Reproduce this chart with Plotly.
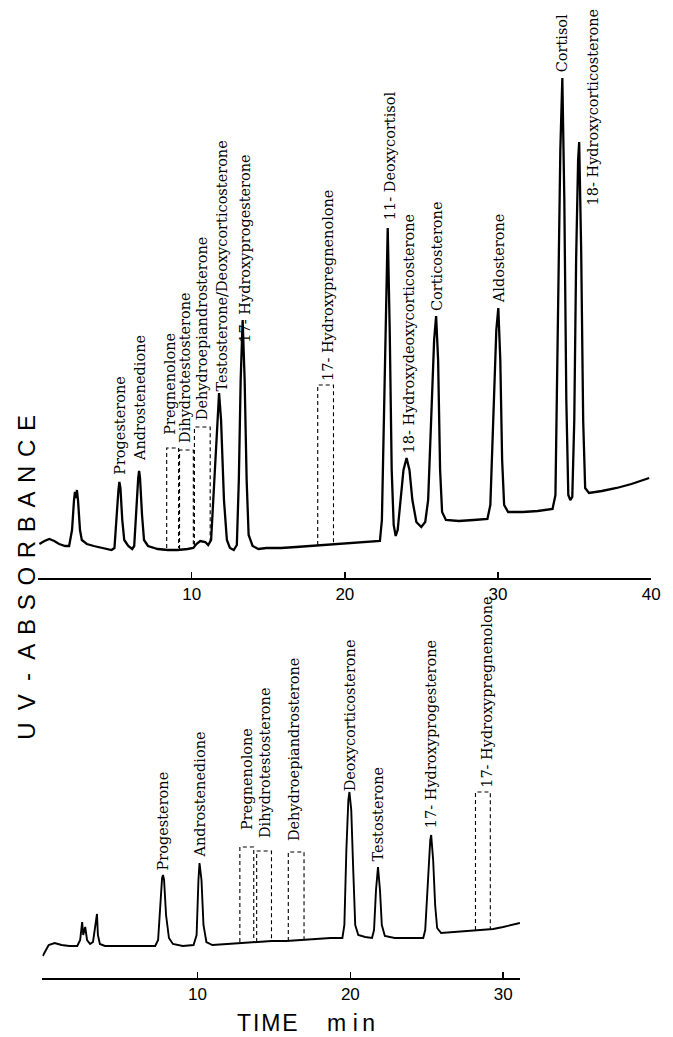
import plotly.graph_objects as go

# ---------------- data: upper chromatogram (adrenal steroids) ----------------
top_time = [0.06, 0.39, 0.71, 1.03, 1.35, 1.74, 2.00, 2.19, 2.32, 2.38, 2.45, 2.51, 2.58, 2.71, 2.83,
            3.16, 3.61, 4.25, 4.77, 4.96, 5.09, 5.22, 5.28, 5.35, 5.47, 5.60, 5.86, 6.12, 6.25, 6.38,
            6.51, 6.57, 6.63, 6.76, 6.89, 7.15, 7.79, 8.44, 9.08, 9.73, 10.11, 10.31, 10.56, 10.89,
            11.08, 11.27, 11.47, 11.66, 11.79, 11.92, 12.11, 12.30, 12.50, 12.75, 12.95, 13.08, 13.20,
            13.33, 13.46, 13.59, 13.72, 13.98, 14.36, 14.88, 15.85, 16.81, 17.78, 18.74, 19.71, 20.68,
            21.64, 22.29, 22.42, 22.54, 22.67, 22.80, 22.93, 23.06, 23.19, 23.32, 23.45, 23.64, 23.83,
            24.03, 24.22, 24.41, 24.67, 24.99, 25.25, 25.44, 25.64, 25.83, 25.96, 26.09, 26.22, 26.35,
            26.60, 27.44, 28.41, 29.31, 29.50, 29.69, 29.89, 30.02, 30.15, 30.27, 30.40, 30.66, 31.63,
            32.59, 33.56, 33.75, 33.95, 34.07, 34.20, 34.33, 34.46, 34.59, 34.72, 34.85, 34.98, 35.10,
            35.23, 35.30, 35.43, 35.56, 35.69, 35.94, 36.78, 37.75, 38.71, 39.36, 39.87]
top_abs = [6.8, 7.4, 7.8, 7.4, 6.8, 6.4, 6.4, 9.6, 15.6, 17.2, 16.0, 17.6, 15.6, 9.6, 7.6,
           6.8, 6.4, 6.0, 5.6, 6.0, 12.6, 17.6, 19.2, 18.0, 11.6, 7.6, 6.4, 5.8, 6.4, 13.6,
           20.0, 21.4, 20.0, 12.6, 7.6, 6.4, 5.8, 5.6, 5.6, 5.8, 6.0, 6.8, 7.4, 7.2,
           6.6, 7.6, 19.6, 31.6, 37.0, 31.6, 15.6, 7.6, 6.0, 5.6, 6.6, 19.6, 39.6,
           51.6, 39.6, 19.6, 8.6, 6.4, 5.8, 6.0, 6.0, 6.2, 6.4, 6.6, 6.8, 7.0,
           7.2, 7.4, 11.6, 31.6, 55.6, 70.0, 49.6, 21.6, 10.6, 8.4, 9.6, 15.6, 21.6,
           24.0, 21.6, 15.6, 11.2, 10.2, 11.2, 15.6, 31.6, 47.6, 52.4, 43.6, 21.6, 13.2,
           11.6, 11.4, 11.6, 11.8, 14.6, 31.6, 49.6, 54.0, 43.6, 23.6, 14.6, 13.2, 13.2,
           13.4, 13.8, 16.6, 55.6, 85.6, 100.0, 75.6, 35.6, 16.6, 15.6, 16.2, 31.6, 63.6,
           83.6, 87.2, 65.6, 31.6, 18.0, 17.0, 17.4, 18.0, 18.8, 19.4, 20.0]

top_labels = ["Progesterone", "Androstenedione", "Pregnenolone", "Dihydrotestosterone",
              "Dehydroepiandrosterone", "Testosterone/Deoxycorticosterone", "17- Hydroxyprogesterone",
              "17- Hydroxypregnenolone", "11- Deoxycortisol", "18- Hydroxydeoxycorticosterone",
              "Corticosterone", "Aldosterone", "Cortisol", "18- Hydroxycorticosterone"]
top_label_time = [5.28, 6.63, 8.57, 9.53, 10.69, 11.98, 13.46, 18.87, 22.93, 24.22, 26.02, 30.08, 34.20, 36.20]
top_label_abs = [20.2, 23.0, 28.2, 26.6, 31.2, 37.0, 46.6, 39.0, 71.2, 24.6, 53.0, 54.6, 100.8, 74.2]

# dashed windows for steroids not detected (upper run)
top_box_left = [8.37, 9.21, 10.18, 18.23]
top_box_right = [9.15, 10.11, 11.21, 19.26]
top_box_top = [26.0, 25.6, 30.2, 38.6]
top_box_base = [6.0, 5.8, 6.6, 6.6]

top_ticks = [10, 20, 30, 40]

# ---------------- data: lower chromatogram ----------------
bottom_time = [-0.13, 0.06, 0.26, 0.65, 1.10, 1.61, 2.13, 2.32, 2.45, 2.52, 2.65, 2.77, 2.97, 3.16, 3.29,
               3.42, 3.48, 3.61, 3.94, 4.84, 6.13, 7.23, 7.42, 7.55, 7.68, 7.74, 7.81, 7.94, 8.13, 8.39,
               9.03, 9.74, 9.94, 10.06, 10.13, 10.26, 10.39, 10.58, 10.97, 11.94, 12.90, 13.87, 14.84,
               15.81, 16.77, 17.74, 18.71, 19.48, 19.61, 19.74, 19.87, 19.94, 20.06, 20.19, 20.32, 20.52,
               20.97, 21.42, 21.55, 21.68, 21.81, 21.94, 22.06, 22.26, 22.90, 23.87, 24.77, 24.90, 25.10,
               25.23, 25.29, 25.42, 25.55, 25.68, 25.94, 26.77, 27.74, 28.71, 29.35, 30.00, 30.65, 31.10]
bottom_abs = [4.4, 5.6, 6.6, 7.0, 6.6, 6.4, 6.4, 7.6, 11.2, 8.6, 10.2, 7.6, 6.8, 7.2, 9.6,
              12.8, 8.6, 6.8, 6.4, 6.4, 6.4, 6.4, 7.6, 14.6, 20.0, 20.6, 19.6, 12.6, 8.0, 6.8,
              6.4, 6.6, 8.6, 19.6, 23.0, 19.6, 10.6, 7.2, 6.6, 6.8, 7.0, 7.2, 7.4,
              7.4, 7.6, 7.8, 8.0, 8.0, 10.6, 25.6, 35.6, 37.2, 33.6, 21.6, 10.6, 8.6,
              8.2, 8.0, 9.6, 17.6, 22.2, 17.6, 10.6, 8.4, 8.0, 8.0, 8.0, 9.6, 21.6,
              27.6, 28.6, 23.6, 14.6, 10.0, 9.0, 9.2, 9.4, 9.6, 9.8, 10.2, 10.6, 11.0]

bottom_labels = ["Progesterone", "Androstenedione", "Pregnenolone", "Dihydrotestosterone",
                 "Dehydroepiandrosterone", "Deoxycorticosterone", "Testosterone",
                 "17- Hydroxyprogesterone", "17- Hydroxypregnenolone"]
bottom_label_time = [7.74, 10.13, 13.23, 14.39, 16.32, 20.00, 21.81, 25.29, 28.90]
bottom_label_abs = [21.2, 23.6, 29.2, 27.6, 27.0, 37.0, 23.0, 29.6, 37.6]

bottom_box_left = [12.77, 13.87, 15.94, 28.19]
bottom_box_right = [13.68, 14.84, 16.97, 29.16]
bottom_box_top = [26.2, 25.4, 25.2, 37.2]
bottom_box_base = [7.2, 7.2, 7.4, 9.6]

bottom_ticks = [10, 20, 30]

# ---------------- figure ----------------
W, H = 673, 1037
fig = go.Figure()

fig.add_trace(go.Scatter(x=top_time, y=top_abs, mode="lines", xaxis="x", yaxis="y",
                         line=dict(color="black", width=2.3), hoverinfo="skip"))
fig.add_trace(go.Scatter(x=bottom_time, y=bottom_abs, mode="lines", xaxis="x2", yaxis="y2",
                         line=dict(color="black", width=1.9), hoverinfo="skip"))


def add_boxes(lefts, rights, tops, bases, xa, ya):
    for l, r, t, b in zip(lefts, rights, tops, bases):
        fig.add_trace(go.Scatter(x=[l, l, r, r], y=[b, t, t, b], mode="lines", xaxis=xa, yaxis=ya,
                                 line=dict(color="black", width=1.1, dash="4px,3px"),
                                 hoverinfo="skip"))


add_boxes(top_box_left, top_box_right, top_box_top, top_box_base, "x", "y")
add_boxes(bottom_box_left, bottom_box_right, bottom_box_top, bottom_box_base, "x2", "y2")

label_font = dict(family="DejaVu Serif", size=14.5, color="black")
annotations = []
for name, t, a in zip(top_labels, top_label_time, top_label_abs):
    annotations.append(dict(x=t, y=a, xref="x", yref="y", text=name, showarrow=False,
                            textangle=-90, xanchor="center", yanchor="bottom", font=label_font))
for name, t, a in zip(bottom_labels, bottom_label_time, bottom_label_abs):
    annotations.append(dict(x=t, y=a, xref="x2", yref="y2", text=name, showarrow=False,
                            textangle=-90, xanchor="center", yanchor="bottom", font=label_font))

sans = "Liberation Sans, Arial, Helvetica, sans-serif"
ytitle = "U\u2002V\u00a0\u00a0-\u00a0\u00a0" + "\u00a0\u200a".join("ABSORBANCE")
annotations.append(dict(x=26 / W, y=1 - 577 / H, xref="paper", yref="paper", text=ytitle,
                        showarrow=False, textangle=-90, xanchor="center", yanchor="middle",
                        font=dict(family=sans, size=24, color="black")))
annotations.append(dict(x=310 / W, y=1 - 1023 / H, xref="paper", yref="paper",
                        text="T\u200aI\u200aM\u200aE\u2003\u00a0m\u00a0i\u2009n",
                        showarrow=False, xanchor="center", yanchor="middle",
                        font=dict(family=sans, size=23, color="black")))

axis_common = dict(showline=True, linecolor="black", linewidth=1.6, ticks="inside", ticklen=6,
                   tickwidth=1.5, tickcolor="black", showgrid=False, zeroline=False,
                   tickfont=dict(family=sans, size=17, color="black"), fixedrange=True)

fig.update_layout(
    width=W, height=H, autosize=False,
    margin=dict(l=0, r=0, t=0, b=0),
    paper_bgcolor="white", plot_bgcolor="white",
    showlegend=False,
    xaxis=dict(domain=[39 / W, 660 / W], range=[0, 40], anchor="y",
               tickvals=top_ticks, ticktext=[str(v) for v in top_ticks], **axis_common),
    yaxis=dict(domain=[1 - 578 / H, 1 - 58 / H], range=[0, 104], visible=False, anchor="x"),
    xaxis2=dict(domain=[43 / W, 527 / W], range=[-0.15, 31.1], anchor="y2",
                tickvals=bottom_ticks, ticktext=[str(v) for v in bottom_ticks], **axis_common),
    yaxis2=dict(domain=[1 - 978 / H, 1 - 598 / H], range=[0, 76], visible=False, anchor="x2"),
    annotations=annotations,
)

fig.write_html(
    "out.html",
    config={"displayModeBar": False, "staticPlot": True},
    post_script="document.body.style.margin='0';document.body.style.padding='0';"
                "document.body.style.overflow='hidden';",
)
